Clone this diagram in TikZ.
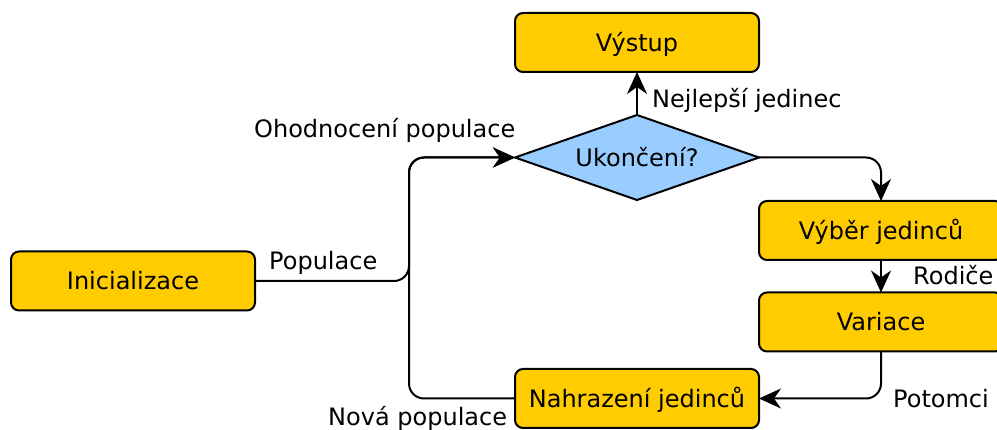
\documentclass[tikz,border=0pt]{standalone}
\usepackage{fontspec}
\setmainfont{DejaVu Sans}
\usetikzlibrary{arrows.meta,shapes.geometric}

\definecolor{boxfill}{HTML}{FFCC00}
\definecolor{decfill}{HTML}{99CCFF}

\tikzset{
  base/.style={font=\fontsize{24}{29}\selectfont, text height=17.5pt, text depth=0pt},
  procbox/.style={base, draw=black, line width=2pt, fill=boxfill, rounded corners=8pt,
    minimum width=244pt, minimum height=59pt, inner sep=0pt, outer sep=0pt},
  decision/.style={base, draw=black, line width=2pt, fill=decfill, diamond, aspect=2.87,
    minimum width=244pt, minimum height=85pt, inner sep=0pt, outer sep=0pt},
  conn/.style={line width=2pt, rounded corners=15pt,
    -{Stealth[length=22pt, width=20pt, inset=7pt]}},
  lbl/.style={base, inner sep=0pt}
}

\begin{document}
\begin{tikzpicture}[x=1pt, y=-1pt]
  \useasboundingbox (0,0) rectangle (997,430);

  % process steps
  \node[procbox] (out)  at (637,42.5)  {Výstup};
  \node[decision] (cond) at (637,157.5) {Ukončení?};
  \node[procbox] (sel)  at (881,230.5) {Výběr jedinců};
  \node[procbox] (var)  at (881,322)   {Variace};
  \node[procbox] (repl) at (637,398.5) {Nahrazení jedinců};
  \node[procbox] (init) at (133,281)   {Inicializace};

  % junction where both populations enter the evaluation
  \coordinate (j) at (409,157.5);

  % flow
  \draw[conn] (init.east) -| (j) -- (cond.west);
  \draw[conn] (repl.west) -| (j) -- (cond.west);
  \draw[conn] (cond.north) -- (out.south);
  \draw[conn] (cond.east) -| (sel.north);
  \draw[conn] (sel.south) -- (var.north);
  \draw[conn] (var.south) |- (repl.east);

  % edge labels
  \node[lbl, anchor=west] (lbest) at (652,99)  {Nejlepší jedinec};
  \node[lbl, anchor=west] (leval) at (254,129) {Ohodnocení populace};
  \node[lbl, anchor=west] (lpop)  at (269,261) {Populace};
  \node[lbl, anchor=west] (lpar)  at (913,276) {Rodiče};
  \node[lbl, anchor=west] (loff)  at (893,399) {Potomci};
  \node[lbl, anchor=west] (lnew)  at (328,417) {Nová populace};
\end{tikzpicture}
\end{document}
